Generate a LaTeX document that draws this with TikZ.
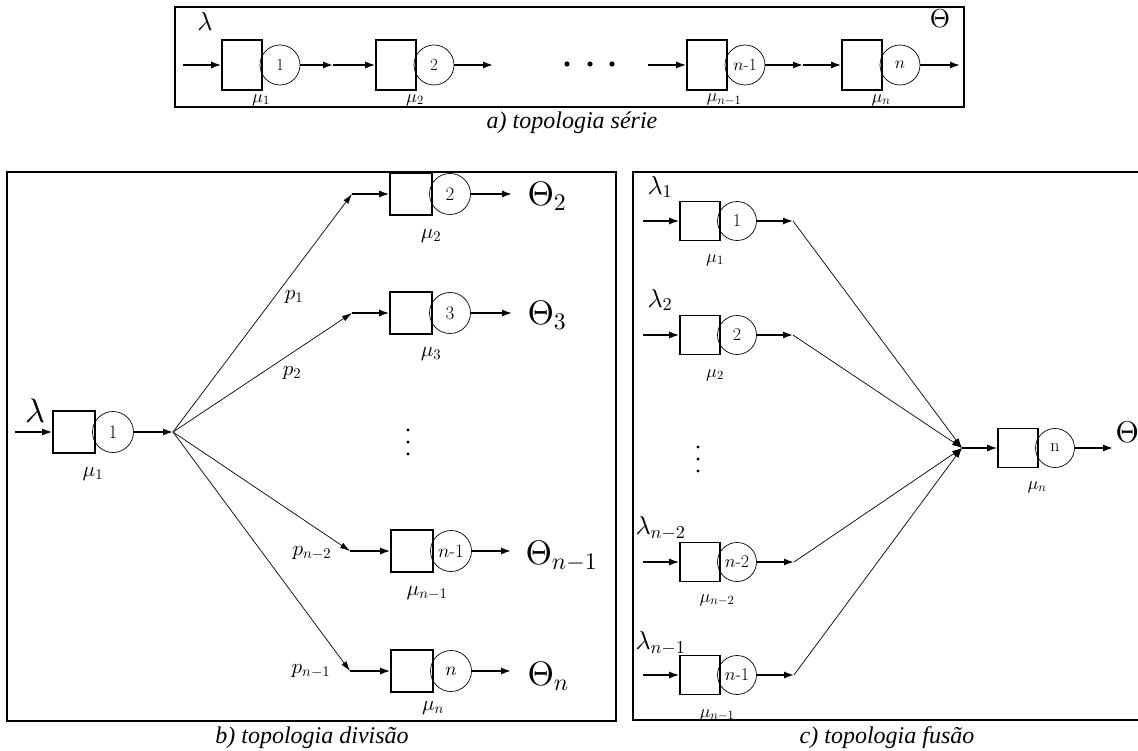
\documentclass[tikz,border=0pt]{standalone}
\usepackage{fontspec}
\IfFontExistsTF{Liberation Serif Italic}
	{\newfontfamily\capfont{Liberation Serif Italic}}
	{\newfontfamily\capbase{Liberation Serif}\newcommand\capfont{\capbase\itshape}}
\DeclareFontShape{OML}{cmm}{m}{it}{<->cmmi10}{}
\DeclareFontShape{OT1}{cmr}{m}{n}{<->cmr10}{}
\DeclareFontShape{OMS}{cmsy}{m}{n}{<->cmsy10}{}
\usetikzlibrary{arrows.meta}
\tikzset{
	queue/.style={draw, line width=1.6pt, minimum width=42pt, minimum height=42pt, inner sep=0pt},
	server/.style={circle, draw, line width=0.7pt, minimum size=41pt, inner sep=0pt, font=\fontsize{19}{19}\selectfont},
	topqueue/.style={queue, minimum width=40pt, minimum height=50pt},
	topserver/.style={server, minimum size=40pt, font=\fontsize{17}{17}\selectfont},
	sidequeue/.style={queue, minimum width=40pt, minimum height=39pt},
	sideserver/.style={server, minimum size=39pt, font=\fontsize{18}{18}\selectfont},
	flow/.style={-{Latex[length=10pt,width=7pt]}, line width=1.4pt},
	branch/.style={-{Latex[length=10pt,width=6pt]}, line width=0.7pt},
	frame/.style={line width=2pt},
	rate/.style={font=\fontsize{21}{21}\selectfont},
	toprate/.style={font=\fontsize{18}{18}\selectfont},
	mid/.style={font=\fontsize{26}{26}\selectfont},
	big/.style={font=\fontsize{34}{34}\selectfont},
	caption/.style={font=\capfont\fontsize{24}{24}\selectfont}
}

\begin{document}
\begin{tikzpicture}[x=1pt, y=-1pt]
	\useasboundingbox (0,0) rectangle (1138,751);

	% Draw the series topology
	\draw[frame] (175,7) rectangle (964,107);
	\node[topqueue] (qa1) at (242,65) {};
	\node[topserver] (sa1) at (280,65) {1};
	\node[topqueue] (qa2) at (396,65) {};
	\node[topserver] (sa2) at (434,65) {2};
	\node[topqueue] (qa3) at (707,65) {};
	\node[topserver] (sa3) at (745,65) {$n$-1};
	\node[topqueue] (qa4) at (862,65) {};
	\node[topserver] (sa4) at (900,65) {$n$};
	\coordinate (ina) at (183,65);
	\coordinate (ja1) at (333,65);
	\coordinate (ja2) at (493,65);
	\coordinate (ja3) at (648,65);
	\coordinate (ja4) at (803,65);
	\coordinate (outa) at (960,65);
	\draw[flow] (ina) -- (qa1);
	\draw[flow] (sa1) -- (ja1);
	\draw[flow] (ja1) -- (qa2);
	\draw[flow] (sa2) -- (ja2);
	\draw[flow] (ja3) -- (qa3);
	\draw[flow] (sa3) -- (ja4);
	\draw[flow] (ja4) -- (qa4);
	\draw[flow] (sa4) -- (outa);
	\foreach \x in {567,590,612} \fill (\x,64) circle (2.6pt);
	\node[mid] (lama) at (205,21) {$\lambda$};
	\node[mid] (tha) at (940,19) {$\Theta$};
	\node[toprate] (ma1) at (261,100) {$\mu_1$};
	\node[toprate] (ma2) at (415,100) {$\mu_2$};
	\node[toprate] (ma3) at (724,100) {$\mu_{n-1}$};
	\node[toprate] (ma4) at (881,100) {$\mu_n$};
	\node[caption] (capa) at (572,123) {a) topologia série};

	% Draw the split topology
	\draw[frame] (7,172) rectangle (616,721);
	\node[queue] (qb1) at (74,432) {};
	\node[server] (sb1) at (113,432) {1};
	\coordinate (inb) at (15,432);
	\coordinate (fan) at (173,432);
	\draw[flow] (inb) -- (qb1);
	\draw[flow] (sb1) -- (fan);
	\node[big] (lamb) at (35,411) {$\lambda$};
	\node[rate] (mb1) at (93,474) {$\mu_1$};

	\node[queue] (qb2) at (411,194) {};
	\node[server] (sb2) at (450,194) {2};
	\node[queue] (qb3) at (411,313) {};
	\node[server] (sb3) at (450,313) {3};
	\node[queue] (qb4) at (412,551) {};
	\node[server] (sb4) at (451,551) {$n$-1};
	\node[queue] (qb5) at (412,671) {};
	\node[server] (sb5) at (451,671) {$n$};
	\coordinate (tb2) at (352,194);
	\coordinate (tb3) at (352,313);
	\coordinate (tb4) at (350,551);
	\coordinate (tb5) at (350,671);
	\coordinate (ob2) at (512,194);
	\coordinate (ob3) at (512,313);
	\coordinate (ob4) at (511,551);
	\coordinate (ob5) at (511,671);
	\draw[branch] (fan) -- (tb2);
	\draw[branch] (fan) -- (tb3);
	\draw[branch] (fan) -- (tb4);
	\draw[branch] (fan) -- (tb5);
	\draw[flow] (tb2) -- (qb2);
	\draw[flow] (tb3) -- (qb3);
	\draw[flow] (tb4) -- (qb4);
	\draw[flow] (tb5) -- (qb5);
	\draw[flow] (sb2) -- (ob2);
	\draw[flow] (sb3) -- (ob3);
	\draw[flow] (sb4) -- (ob4);
	\draw[flow] (sb5) -- (ob5);
	\foreach \y in {430,442,454} \fill (408,\y) circle (1.6pt);
	\node[rate] (pb1) at (294,297) {$p_1$};
	\node[rate] (pb2) at (292,373) {$p_2$};
	\node[rate] (pb3) at (312,553) {$p_{n-2}$};
	\node[rate] (pb4) at (311,671) {$p_{n-1}$};
	\node[rate] (mb2) at (431,236) {$\mu_2$};
	\node[rate] (mb3) at (431,354) {$\mu_3$};
	\node[rate] (mb4) at (427,593) {$\mu_{n-1}$};
	\node[rate] (mb5) at (433,708) {$\mu_n$};
	\node[big, anchor=west] (thb2) at (524,196) {$\Theta_2$};
	\node[big, anchor=west] (thb3) at (524,315) {$\Theta_3$};
	\node[big, anchor=west] (thb4) at (522,556) {$\Theta_{n-1}$};
	\node[big, anchor=west] (thb5) at (524,676) {$\Theta_n$};
	\node[caption] (capb) at (312,738) {b) topologia divisão};

	% Draw the merge topology
	\draw[frame] (633,172) rectangle (1160,720);
	\node[sidequeue] (qc1) at (700,221) {};
	\node[sideserver] (sc1) at (737,221) {1};
	\node[sidequeue] (qc2) at (700,335) {};
	\node[sideserver] (sc2) at (737,335) {2};
	\node[sidequeue] (qc3) at (700,562) {};
	\node[sideserver] (sc3) at (737,562) {$n$-2};
	\node[sidequeue] (qc4) at (700,675) {};
	\node[sideserver] (sc4) at (737,675) {$n$-1};
	\coordinate (ic1) at (643,221);
	\coordinate (ic2) at (643,335);
	\coordinate (ic3) at (643,562);
	\coordinate (ic4) at (643,675);
	\coordinate (tc1) at (793,221);
	\coordinate (tc2) at (793,335);
	\coordinate (tc3) at (794,562);
	\coordinate (tc4) at (794,675);
	\coordinate (merge) at (962,448);
	\draw[flow] (ic1) -- (qc1);
	\draw[flow] (ic2) -- (qc2);
	\draw[flow] (ic3) -- (qc3);
	\draw[flow] (ic4) -- (qc4);
	\draw[flow] (sc1) -- (tc1);
	\draw[flow] (sc2) -- (tc2);
	\draw[flow] (sc3) -- (tc3);
	\draw[flow] (sc4) -- (tc4);
	\draw[branch] (tc1) -- (merge);
	\draw[branch] (tc2) -- (merge);
	\draw[branch] (tc3) -- (merge);
	\draw[branch] (tc4) -- (merge);
	\node[sidequeue] (qc5) at (1018,448) {};
	\node[sideserver] (sc5) at (1055,448) {n};
	\coordinate (outc) at (1113,448);
	\draw[flow] (merge) -- (qc5);
	\draw[flow] (sc5) -- (outc);
	\foreach \y in {447,459,471} \fill (698,\y) circle (1.6pt);
	\node[mid, anchor=west] (lamc1) at (644,187) {$\lambda_1$};
	\node[mid, anchor=west] (lamc2) at (644,300) {$\lambda_2$};
	\node[mid, anchor=west] (lamc3) at (632,528) {$\lambda_{n-2}$};
	\node[mid, anchor=west] (lamc4) at (632,643) {$\lambda_{n-1}$};
	\node[toprate] (mc1) at (715,260) {$\mu_1$};
	\node[toprate] (mc2) at (715,375) {$\mu_2$};
	\node[toprate] (mc3) at (717,600) {$\mu_{n-2}$};
	\node[toprate] (mc4) at (717,715) {$\mu_{n-1}$};
	\node[toprate] (mc5) at (1037,487) {$\mu_n$};
	\node[font=\fontsize{30}{30}\selectfont, anchor=west] (thc) at (1112,432) {$\Theta$};
	\node[caption] (capc) at (887,738) {c) topologia fusão};

\end{tikzpicture}
\end{document}
